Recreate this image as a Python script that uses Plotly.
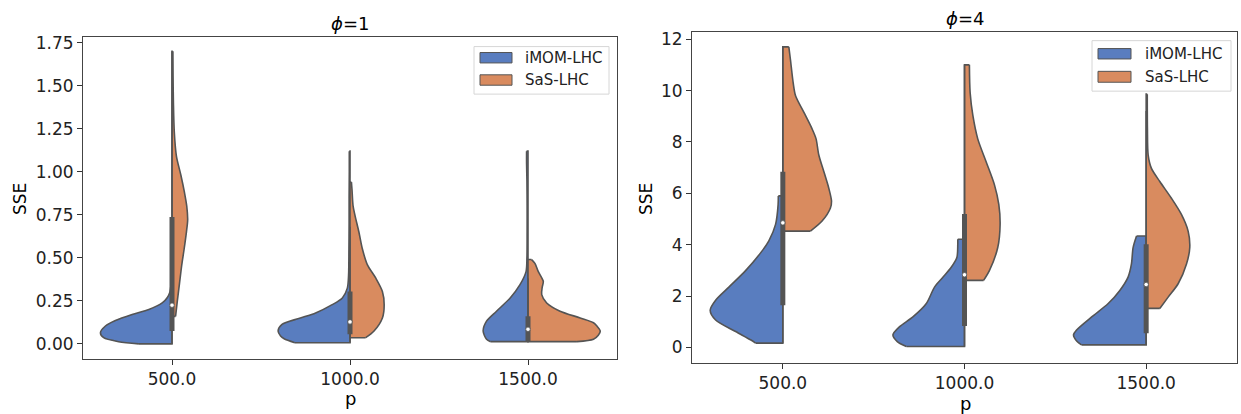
import plotly.graph_objects as go

# ---------------- data ----------------
categories = ["500.0", "1000.0", "1500.0"]
series = ["iMOM-LHC", "SaS-LHC"]
phi_values = ["1", "4"]

# density profiles (SSE level, half-width in category units) for phi = 1
phi1_imom_500_y = [0.0, 0.013, 0.036, 0.065, 0.104, 0.136, 0.171, 0.2, 0.238, 0.27, 0.30, 0.34]
phi1_imom_500_w = [0.186, 0.30, 0.384, 0.402, 0.374, 0.318, 0.224, 0.13, 0.055, 0.026, 0.012, 0.006]
phi1_sas_500_y = [0.16, 0.25, 0.35, 0.46, 0.55, 0.65, 0.72, 0.80, 0.88, 0.98, 1.09, 1.23, 1.40, 1.55, 1.70]
phi1_sas_500_w = [0.02, 0.03, 0.042, 0.055, 0.068, 0.081, 0.088, 0.083, 0.07, 0.05, 0.025, 0.013, 0.008, 0.006, 0.005]
phi1_imom_1000_y = [0.007, 0.03, 0.046, 0.075, 0.113, 0.148, 0.18, 0.228, 0.267, 0.324, 0.40, 0.55, 0.70, 0.85, 1.0, 1.12]
phi1_imom_1000_w = [0.31, 0.37, 0.39, 0.404, 0.382, 0.288, 0.193, 0.10, 0.043, 0.015, 0.008, 0.006, 0.005, 0.005, 0.004, 0.004]
phi1_sas_1000_y = [0.036, 0.075, 0.151, 0.228, 0.305, 0.382, 0.459, 0.554, 0.65, 0.747, 0.804, 0.90, 0.94]
phi1_sas_1000_w = [0.088, 0.135, 0.182, 0.192, 0.182, 0.145, 0.098, 0.069, 0.05, 0.028, 0.017, 0.011, 0.008]
phi1_imom_1500_y = [0.013, 0.027, 0.075, 0.132, 0.19, 0.267, 0.344, 0.42, 0.50, 0.65, 0.80, 0.95, 1.05, 1.12]
phi1_imom_1500_w = [0.21, 0.233, 0.252, 0.233, 0.177, 0.10, 0.045, 0.011, 0.006, 0.005, 0.005, 0.006, 0.008, 0.008]
phi1_sas_1500_y = [0.013, 0.027, 0.05, 0.075, 0.10, 0.123, 0.151, 0.19, 0.238, 0.286, 0.33, 0.363, 0.42, 0.468, 0.49]
phi1_sas_1500_w = [0.275, 0.368, 0.395, 0.406, 0.39, 0.368, 0.293, 0.18, 0.105, 0.077, 0.08, 0.086, 0.058, 0.039, 0.02]

# density profiles for phi = 4
phi4_imom_500_y = [0.17, 0.30, 0.62, 1.07, 1.45, 1.84, 2.35, 2.99, 3.76, 4.15, 4.79, 5.56, 5.9]
phi4_imom_500_w = [0.15, 0.178, 0.26, 0.37, 0.40, 0.37, 0.297, 0.205, 0.114, 0.077, 0.04, 0.026, 0.025]
phi4_sas_500_y = [4.53, 4.92, 5.43, 5.69, 6.2, 6.84, 7.49, 8.12, 8.51, 9.15, 9.8, 10.3, 11.2, 11.7]
phi4_sas_500_w = [0.152, 0.216, 0.262, 0.268, 0.253, 0.226, 0.198, 0.183, 0.161, 0.116, 0.07, 0.057, 0.042, 0.033]
phi4_imom_1000_y = [0.04, 0.23, 0.49, 0.81, 1.19, 1.71, 2.35, 2.73, 3.12, 3.5, 4.02, 4.21]
phi4_imom_1000_w = [0.32, 0.37, 0.394, 0.357, 0.284, 0.21, 0.165, 0.119, 0.073, 0.042, 0.037, 0.037]
phi4_sas_1000_y = [2.61, 2.99, 3.89, 4.79, 5.56, 6.33, 7.23, 8.12, 9.03, 9.92, 11.0]
phi4_sas_1000_w = [0.105, 0.137, 0.183, 0.196, 0.189, 0.165, 0.119, 0.073, 0.046, 0.031, 0.027]
phi4_imom_1500_y = [0.10, 0.23, 0.49, 0.68, 1.19, 1.71, 2.22, 2.75, 3.25, 3.89, 4.34]
phi4_imom_1500_w = [0.356, 0.38, 0.40, 0.383, 0.30, 0.209, 0.145, 0.099, 0.081, 0.072, 0.053]
phi4_sas_1500_y = [1.52, 1.96, 2.48, 3.25, 3.89, 4.53, 5.18, 5.81, 6.46, 6.97, 7.49, 8.5, 9.86]
phi4_sas_1500_w = [0.075, 0.121, 0.176, 0.222, 0.24, 0.231, 0.194, 0.139, 0.075, 0.029, 0.011, 0.007, 0.006]

# inner box statistics (both methods pooled per p)
phi1_q1 = [0.075, 0.056, 0.017]
phi1_median = [0.225, 0.128, 0.085]
phi1_q3 = [0.737, 0.305, 0.161]
phi1_whisker_lo = [0.0, 0.007, 0.013]
phi1_whisker_hi = [1.70, 0.68, 0.38]
phi4_q1 = [1.64, 0.84, 0.55]
phi4_median = [4.85, 2.83, 2.45]
phi4_q3 = [6.84, 5.2, 4.02]
phi4_whisker_lo = [0.17, 0.04, 0.10]
phi4_whisker_hi = [11.7, 11.0, 9.2]

# ---------------- styling ----------------
BLUE = "#597dbf"
ORANGE = "#d98b5f"
GRAY = "#545454"
FONT = "DejaVu Sans"
W, H = 1241, 414

panels = [
    dict(profiles=[(phi1_imom_500_y, phi1_imom_500_w, phi1_sas_500_y, phi1_sas_500_w),
                   (phi1_imom_1000_y, phi1_imom_1000_w, phi1_sas_1000_y, phi1_sas_1000_w),
                   (phi1_imom_1500_y, phi1_imom_1500_w, phi1_sas_1500_y, phi1_sas_1500_w)],
         q1=phi1_q1, med=phi1_median, q3=phi1_q3, lo=phi1_whisker_lo, hi=phi1_whisker_hi,
         px=(83, 617), py=(33, 358), yrange=[-0.085, 1.785],
         ytick=[0, 0.25, 0.5, 0.75, 1.0, 1.25, 1.5, 1.75], yfmt="{:.2f}",
         title_xy=(350, 20), ylab_xy=(20, 197), xlab_xy=(350, 398),
         legend=dict(box=(474, 43, 609, 91), sw=(480, 512), sy=[(49, 59.5), (71.5, 82)], tx=523)),
    dict(profiles=[(phi4_imom_500_y, phi4_imom_500_w, phi4_sas_500_y, phi4_sas_500_w),
                   (phi4_imom_1000_y, phi4_imom_1000_w, phi4_sas_1000_y, phi4_sas_1000_w),
                   (phi4_imom_1500_y, phi4_imom_1500_w, phi4_sas_1500_y, phi4_sas_1500_w)],
         q1=phi4_q1, med=phi4_median, q3=phi4_q3, lo=phi4_whisker_lo, hi=phi4_whisker_hi,
         px=(692, 1237), py=(28, 362), yrange=[-0.585, 12.29],
         ytick=[0, 2, 4, 6, 8, 10, 12], yfmt="{:.0f}",
         title_xy=(965, 15), ylab_xy=(646, 197), xlab_xy=(965, 403),
         legend=dict(box=(1092, 37, 1231, 88), sw=(1098, 1131), sy=[(45, 55.5), (68, 79)], tx=1143)),
]

fig = go.Figure()
shapes, annotations = [], []

for k, p in enumerate(panels):
    xa = "x" if k == 0 else "x2"
    ya = "y" if k == 0 else "y2"
    for i, (by, bw, oy, ow) in enumerate(p["profiles"]):
        for ys, ws, sign, col in ((by, bw, -1, BLUE), (oy, ow, 1, ORANGE)):
            # straight part of the outline: bottom edge, split line, top edge
            fig.add_trace(go.Scatter(
                x=[i + sign * ws[0], i, i, i + sign * ws[-1]],
                y=[ys[0], ys[0], ys[-1], ys[-1]],
                xaxis=xa, yaxis=ya, mode="lines",
                line=dict(color=GRAY, width=1.6), showlegend=False, hoverinfo="skip"))
            # smooth density outline, filled back to the straight part
            fig.add_trace(go.Scatter(
                x=[i + sign * w for w in ws], y=ys, xaxis=xa, yaxis=ya, mode="lines",
                fill="tonextx", fillcolor=col,
                line=dict(color=GRAY, width=1.6, shape="spline", smoothing=0.8),
                showlegend=False, hoverinfo="skip"))
    for i in range(len(categories)):
        fig.add_trace(go.Scatter(x=[i, i], y=[p["lo"][i], p["hi"][i]], xaxis=xa, yaxis=ya,
                                 mode="lines", line=dict(color=GRAY, width=1.5),
                                 showlegend=False, hoverinfo="skip"))
        fig.add_trace(go.Scatter(x=[i, i], y=[p["q1"][i], p["q3"][i]], xaxis=xa, yaxis=ya,
                                 mode="lines", line=dict(color=GRAY, width=5),
                                 showlegend=False, hoverinfo="skip"))
    fig.add_trace(go.Scatter(x=list(range(len(categories))), y=p["med"], xaxis=xa, yaxis=ya,
                             mode="markers", marker=dict(color="white", size=4.5,
                                                         line=dict(color=GRAY, width=0.8)),
                             showlegend=False, hoverinfo="skip"))

    # subplot title, axis labels
    tx, ty = p["title_xy"]
    annotations.append(dict(text="<i>ϕ</i>=" + phi_values[k], x=tx / W, y=1 - ty / H,
                            xref="paper", yref="paper", showarrow=False,
                            font=dict(family=FONT, size=18, color="black"),
                            xanchor="center", yanchor="middle"))
    lx, ly = p["ylab_xy"]
    annotations.append(dict(text="SSE", x=lx / W, y=1 - ly / H, xref="paper", yref="paper",
                            showarrow=False, textangle=-90,
                            font=dict(family=FONT, size=17, color="black"),
                            xanchor="center", yanchor="middle"))
    lx, ly = p["xlab_xy"]
    annotations.append(dict(text="p", x=lx / W, y=1 - ly / H, xref="paper", yref="paper",
                            showarrow=False, font=dict(family=FONT, size=18, color="black"),
                            xanchor="center", yanchor="middle"))

    # legend (matplotlib style)
    lg = p["legend"]
    x0, y0, x1, y1 = lg["box"]
    shapes.append(dict(type="rect", xref="paper", yref="paper", x0=x0 / W, x1=x1 / W,
                       y0=1 - y1 / H, y1=1 - y0 / H, line=dict(color="#d6d6d6", width=1),
                       fillcolor="rgba(255,255,255,0.8)", layer="above"))
    for (sy0, sy1), name, col in zip(lg["sy"], series, (BLUE, ORANGE)):
        shapes.append(dict(type="rect", xref="paper", yref="paper",
                           x0=lg["sw"][0] / W, x1=lg["sw"][1] / W,
                           y0=1 - sy1 / H, y1=1 - sy0 / H,
                           line=dict(color=GRAY, width=1), fillcolor=col, layer="above"))
        annotations.append(dict(text=name, x=lg["tx"] / W, y=1 - (sy0 + sy1) / 2 / H,
                                xref="paper", yref="paper", showarrow=False,
                                font=dict(family=FONT, size=15, color="#222"),
                                xanchor="left", yanchor="middle"))

axis_common = dict(showgrid=False, zeroline=False, showline=True, mirror=True,
                   linecolor="#444", linewidth=1, ticks="outside", ticklen=5,
                   tickcolor="#333", tickfont=dict(family=FONT, size=17, color="#222"))
layout_axes = {}
for k, p in enumerate(panels):
    sx = "" if k == 0 else "2"
    layout_axes["xaxis" + sx] = dict(domain=[p["px"][0] / W, p["px"][1] / W], range=[-0.5, 2.5],
                                     tickmode="array", tickvals=list(range(len(categories))),
                                     ticktext=categories, anchor="y" + sx, **axis_common)
    layout_axes["yaxis" + sx] = dict(domain=[1 - p["py"][1] / H, 1 - p["py"][0] / H],
                                     range=p["yrange"], tickmode="array", tickvals=p["ytick"],
                                     ticktext=[p["yfmt"].format(v) for v in p["ytick"]],
                                     anchor="x" + sx, **axis_common)

fig.update_layout(width=W, height=H, margin=dict(l=0, r=0, t=0, b=0),
                  paper_bgcolor="white", plot_bgcolor="white",
                  shapes=shapes, annotations=annotations, showlegend=False,
                  **layout_axes)

fig.write_html("out.html")
